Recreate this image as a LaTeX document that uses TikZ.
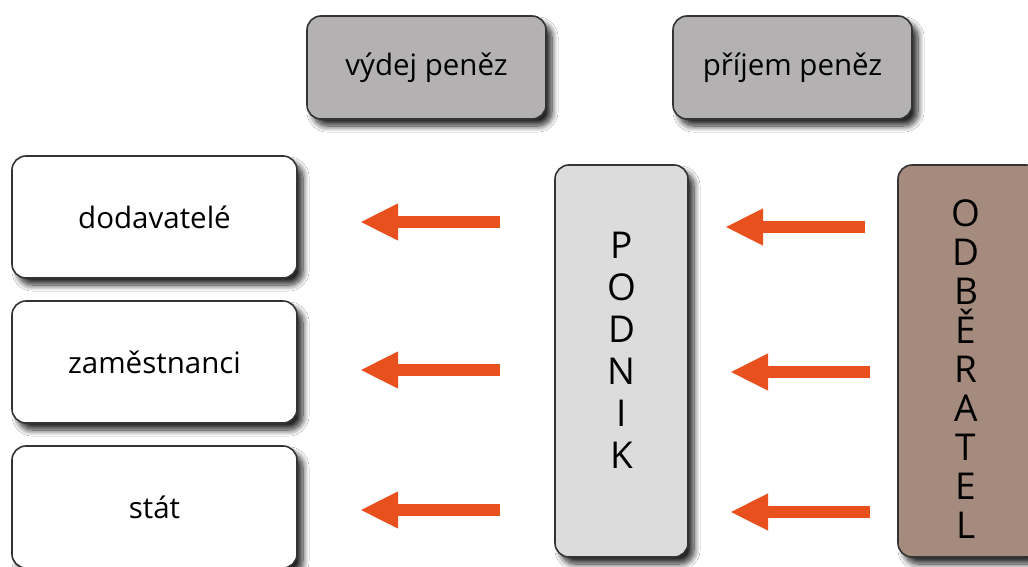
\documentclass[tikz,border=0pt]{standalone}
\usepackage{fontspec}
\setmainfont{Open Sans}
\usetikzlibrary{arrows.meta,shadows.blur}
\definecolor{boxline}{HTML}{333333}
\definecolor{flowgray}{HTML}{B3B1B2}
\definecolor{firmgray}{HTML}{DCDCDC}
\definecolor{custbrown}{HTML}{A58B7D}
\definecolor{flowarrow}{HTML}{E8501E}
\tikzset{
  card/.style={draw=boxline, line width=1.6pt, rounded corners=14pt,
    blur shadow={shadow xshift=6pt, shadow yshift=-7pt, shadow blur steps=10, shadow blur radius=6pt, shadow opacity=85},
    font=\fontsize{29.5}{34}\selectfont, inner sep=0pt},
  partner/.style={card, fill=white, minimum width=285pt, minimum height=122pt},
  money/.style={card, fill=flowgray, minimum width=239pt, minimum height=103pt},
  column/.style={card, minimum width=133pt, minimum height=392pt},
  vtext/.style={font=\fontsize{37}{42}\selectfont, align=center, inner sep=0pt},
  flow/.style={draw=flowarrow, line width=12pt,
    -{Triangle[width=34pt,length=38pt,fill=flowarrow]}, shorten >=0pt}
}
\begin{document}
\begin{tikzpicture}[x=1pt,y=-1pt]
\useasboundingbox[fill=white] (0,0) rectangle (1028,567);

% cash flow headers
\node[money] (vydej) at (426.5,67.5) {výdej peněz};
\node[money] (prijem) at (792.5,67.5) {příjem peněz};

% partners paid by the company
\node[partner] (dod) at (154.5,217) {dodavatelé};
\node[partner] (zam) at (154.5,362) {zaměstnanci};
\node[partner] (stat) at (154.5,507) {stát};

% company and customer columns
\node[column, fill=firmgray] (podnik) at (621.5,361) {};
\node[vtext] (podnikt) at (621.5,350) {P\\O\\D\\N\\I\\K};
\node[column, fill=custbrown, minimum width=142pt] (odb) at (969,361) {};
\node[vtext, font=\fontsize{37}{39}\selectfont] (odbt) at (966,369) {O\\D\\B\\Ě\\R\\A\\T\\E\\L};

% money flow arrows
\coordinate (a1s) at (500,222); \coordinate (a1e) at (360,222);
\coordinate (a2s) at (500,370); \coordinate (a2e) at (360,370);
\coordinate (a3s) at (500,510); \coordinate (a3e) at (360,510);
\coordinate (b1s) at (865,227); \coordinate (b1e) at (725,227);
\coordinate (b2s) at (870,372); \coordinate (b2e) at (730,372);
\coordinate (b3s) at (870,512); \coordinate (b3e) at (730,512);
\foreach \p in {a1,a2,a3,b1,b2,b3}
  \draw[flow] (\p s) -- (\p e);
\end{tikzpicture}
\end{document}
